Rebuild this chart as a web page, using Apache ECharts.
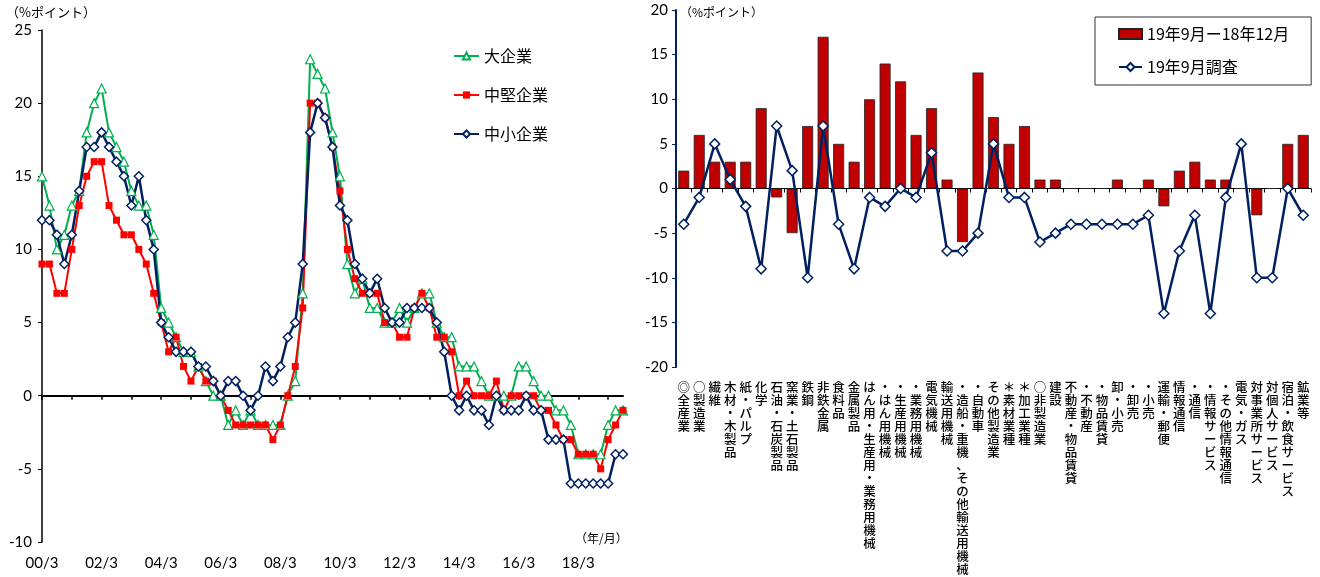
<!DOCTYPE html>
<html><head><meta charset="utf-8">
<script src="https://cdn.jsdelivr.net/npm/echarts@6/dist/echarts.min.js"></script>
<style>html,body{margin:0;padding:0;background:#fff}#c{width:1320px;height:577px}</style>
</head><body><div id="c"></div>
<script>
// ---------- Left chart data (quarterly, 00/3 .. 19/9) ----------
const quarterMonths = [3, 6, 9, 12];
const leftCategories = [];
for (let y = 0; y <= 19; y++) {
  for (const m of quarterMonths) {
    if (y === 19 && m > 9) break;
    leftCategories.push(String(y).padStart(2, '0') + '/' + m);
  }
}
const largeFirms = [15,13,10,11,13,14,18,20,21,18,17,16,14,13,13,11,6,5,4,3,3,2,1,0,0,-2,-1,-2,-1,-2,-2,-2,-2,0,1,7,23,22,21,18,15,9,7,8,6,6,5,5,6,5,6,7,7,5,4,4,2,2,2,1,0,0,0,0,2,2,1,0,0,-1,-1,-2,-4,-4,-4,-4,-2,-1,-1];
const midFirms = [9,9,7,7,10,13,15,16,16,13,12,11,11,10,9,7,5,3,4,2,1,2,1,1,0,-1,-2,-2,-2,-2,-2,-3,-2,0,2,6,20,20,19,17,14,10,8,7,7,7,5,5,4,4,6,7,6,4,4,3,0,1,0,0,0,1,-1,0,0,0,0,-1,-1,-2,-3,-3,-4,-4,-4,-5,-3,-2,-1];
const smallFirms = [12,12,11,9,11,14,17,17,18,17,16,15,13,15,12,10,5,4,3,3,3,2,2,1,0,1,1,0,-1,0,2,1,2,4,5,9,18,20,19,17,13,12,9,8,7,8,6,5,5,6,6,6,6,5,3,0,-1,0,-1,-1,-2,0,-1,-1,-1,0,-1,-1,-3,-3,-3,-6,-6,-6,-6,-6,-6,-4,-4];
const leftSeriesNames = ['大企業', '中堅企業', '中小企業'];

// ---------- Right chart data (industries) ----------
const industries = ["◎全産業","○製造業","繊維","木材・木製品","紙・パルプ","化学","石油・石炭製品","窯業・土石製品","鉄鋼","非鉄金属","食料品","金属製品","はん用・生産用・業務用機械","・はん用機械","・生産用機械","・業務用機械","電気機械","輸送用機械","・造船・重機、その他輸送用機械","・自動車","その他製造業","＊素材業種","＊加工業種","○非製造業","建設","不動産・物品賃貸","・不動産","・物品賃貸","卸・小売","・卸売","・小売","運輸・郵便","情報通信","・通信","・情報サービス","・その他情報通信","電気・ガス","対事業所サービス","対個人サービス","宿泊・飲食サービス","鉱業等"];
const changeValues = [2,6,3,3,3,9,-1,-5,7,17,5,3,10,14,12,6,9,1,-6,13,8,5,7,1,1,0,0,0,1,0,1,-2,2,3,1,1,0,-3,0,5,6];
const surveyValues = [-4,-1,5,1,-2,-9,7,2,-10,7,-4,-9,-1,-2,0,-1,4,-7,-7,-5,5,-1,-1,-6,-5,-4,-4,-4,-4,-4,-3,-14,-7,-3,-14,-1,5,-10,-10,0,-3];
const rightSeriesNames = ['19年9月ー18年12月', '19年9月調査'];
const leftYTicks = {min: -10, max: 25, step: 5};
const rightYTicks = {min: -20, max: 20, step: 5};

const FONT = "Lato, 'Noto Sans CJK JP', sans-serif";
const JP = "'Noto Sans CJK JP', sans-serif";
const GREEN = '#00B050', RED = '#FF0000', NAVY = '#002060', BAR = '#C00000';

const chart = echarts.init(document.getElementById('c'), null, {renderer: 'canvas'});
chart.setOption({
  animation: false,
  backgroundColor: '#fff',
  textStyle: {fontFamily: FONT, color: '#000'},
  grid: [
    {left: 42, top: 30, width: 581, height: 512},
    {left: 676, top: 10, width: 635, height: 357}
  ],
  graphic: [
    {type: 'text', left: 6, top: 6, style: {text: '（%ポイント）', font: "13px 'Noto Sans CJK JP'", fill: '#000'}},
    {type: 'text', left: 575, top: 532, style: {text: '（年/月）', font: "12px 'Noto Sans CJK JP'", fill: '#000'}},
    {type: 'text', left: 680, top: 6, style: {text: '（%ポイント）', font: "12px 'Noto Sans CJK JP'", fill: '#000'}}
  ],
  legend: [
    {
      orient: 'vertical', left: 448, top: 42,
      data: leftSeriesNames,
      itemWidth: 25, itemHeight: 9, itemGap: 21,
      textStyle: {fontFamily: JP, fontSize: 16, lineHeight: 18, color: '#000'}
    },
    {
      orient: 'vertical', left: 1095, top: 17,
      data: [{name: rightSeriesNames[0], icon: 'rect'}, {name: rightSeriesNames[1]}],
      itemWidth: 23, itemHeight: 10, itemGap: 15,
      padding: [8, 22, 9, 23],
      borderColor: '#333', borderWidth: 1,
      textStyle: {fontFamily: JP, fontSize: 16, lineHeight: 18, color: '#000'}
    }
  ],
  xAxis: [
    {
      gridIndex: 0, type: 'category', data: leftCategories, boundaryGap: false, position: 'bottom',
      axisLine: {onZero: true, lineStyle: {color: '#000', width: 2}},
      axisTick: {show: true, interval: 3, length: 4, lineStyle: {color: '#000', width: 1.5}},
      axisLabel: {show: false}, splitLine: {show: false}
    },
    {
      gridIndex: 0, type: 'category', data: leftCategories, boundaryGap: false, position: 'bottom',
      axisLine: {show: false, onZero: false}, axisTick: {show: false},
      axisLabel: {interval: 7, fontSize: 15, margin: 14, color: '#000', fontFamily: FONT},
      splitLine: {show: false}
    },
    {
      gridIndex: 1, type: 'category', data: industries, boundaryGap: true, position: 'bottom',
      axisLine: {onZero: true, lineStyle: {color: '#000', width: 1}},
      axisTick: {show: true, interval: 0, length: 4, lineStyle: {color: '#000'}},
      axisLabel: {show: false}, splitLine: {show: false}
    },
    {
      gridIndex: 1, type: 'category', data: industries, boundaryGap: true, position: 'bottom',
      axisLine: {show: false, onZero: false}, axisTick: {show: false},
      axisLabel: {
        interval: 0, fontSize: 12.5, lineHeight: 13, margin: 14, color: '#000', fontFamily: JP,
        fontWeight: 500, verticalAlign: 'top', align: 'center',
        formatter: s => s.split('').join('\n')
      },
      splitLine: {show: false}
    }
  ],
  yAxis: [
    {
      gridIndex: 0, type: 'value', min: leftYTicks.min, max: leftYTicks.max, interval: leftYTicks.step,
      axisLine: {show: true, lineStyle: {color: '#000', width: 1.5}},
      axisTick: {show: true, length: 4, lineStyle: {color: '#000'}},
      axisLabel: {fontSize: 15, margin: 10, color: '#000', fontFamily: FONT},
      splitLine: {show: false}
    },
    {
      gridIndex: 1, type: 'value', min: rightYTicks.min, max: rightYTicks.max, interval: rightYTicks.step,
      axisLine: {show: true, lineStyle: {color: NAVY, width: 2}},
      axisTick: {show: true, length: 4, lineStyle: {color: NAVY}},
      axisLabel: {fontSize: 15, margin: 8, color: '#000', fontFamily: FONT},
      splitLine: {show: false}
    }
  ],
  series: [
    {
      name: leftSeriesNames[0], type: 'line', xAxisIndex: 0, yAxisIndex: 0, data: largeFirms,
      symbol: 'triangle', symbolSize: 9, showAllSymbol: true,
      lineStyle: {color: GREEN, width: 2},
      itemStyle: {color: '#fff', borderColor: GREEN, borderWidth: 1.2}
    },
    {
      name: leftSeriesNames[1], type: 'line', xAxisIndex: 0, yAxisIndex: 0, data: midFirms,
      symbol: 'rect', symbolSize: 7, showAllSymbol: true,
      lineStyle: {color: RED, width: 2},
      itemStyle: {color: RED, borderColor: RED, borderWidth: 0}
    },
    {
      name: leftSeriesNames[2], type: 'line', xAxisIndex: 0, yAxisIndex: 0, data: smallFirms,
      symbol: 'diamond', symbolSize: 9, showAllSymbol: true,
      lineStyle: {color: NAVY, width: 2.5},
      itemStyle: {color: '#fff', borderColor: NAVY, borderWidth: 1.5}
    },
    {
      name: rightSeriesNames[0], type: 'bar', xAxisIndex: 2, yAxisIndex: 1, data: changeValues,
      barWidth: 11,
      itemStyle: {color: BAR, borderColor: '#222', borderWidth: 0.8}
    },
    {
      name: rightSeriesNames[1], type: 'line', xAxisIndex: 2, yAxisIndex: 1, data: surveyValues,
      symbol: 'diamond', symbolSize: 10, showAllSymbol: true,
      lineStyle: {color: NAVY, width: 2.5},
      itemStyle: {color: '#fff', borderColor: NAVY, borderWidth: 1.5}
    }
  ]
});
</script></body></html>
